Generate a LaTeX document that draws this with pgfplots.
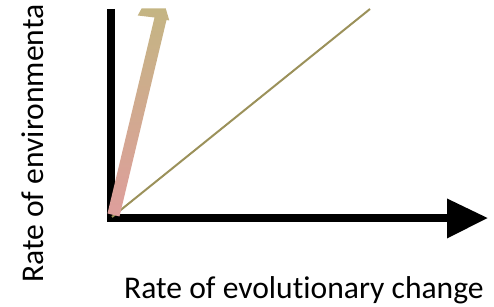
\documentclass[border=0pt]{standalone}
\usepackage{pgfplots}
\pgfplotsset{compat=1.18}
\usepackage{fontspec}
\setmainfont[Ligatures=NoCommon]{Carlito}
\definecolor{olive}{RGB}{155,145,90}
\definecolor{arrowtop}{RGB}{196,181,131}
\definecolor{arrowbot}{RGB}{222,158,156}
\begin{document}
\begin{tikzpicture}
\useasboundingbox (0,0) rectangle (494pt,307pt);
\clip (0,0) rectangle (494pt,307pt);
\begin{axis}[
  at={(0pt,0pt)}, anchor=south west,
  scale only axis, width=494pt, height=307pt,
  xmin=0, xmax=494, ymin=0, ymax=307,
  hide axis, clip=false,
]
% black axes
\addplot[black, line width=8pt, line cap=butt] coordinates {(111,298) (111,85)};
\addplot[black, line width=8pt, line cap=butt] coordinates {(107,89) (448,89)};
\addplot[black, fill=black, draw=none] coordinates {(447,108.5) (487.5,89) (447,68.5)} -- cycle;
% thin olive line
\addplot[olive, line width=2pt] coordinates {(112,90) (370,298)};
% gradient arrow
\addplot[draw=none, top color=arrowtop, bottom color=arrowbot] coordinates {
  (107.5,93.5) (119.5,90.5) (166.5,287) (169.3,286.5) (165.7,298.7)
  (141.7,298.7) (137.7,291.5) (154.5,289.5)} -- cycle;
% labels
\node[anchor=base west, inner sep=0pt, font=\fontsize{31.6}{37}\selectfont] at (axis cs:124,8.7) {Rate of evolutionary change};
\node[anchor=base west, inner sep=0pt, rotate=90, font=\fontsize{31.6}{37}\selectfont] at (axis cs:43.3,24) {Rate of environmenta};
\end{axis}
\end{tikzpicture}
\end{document}
